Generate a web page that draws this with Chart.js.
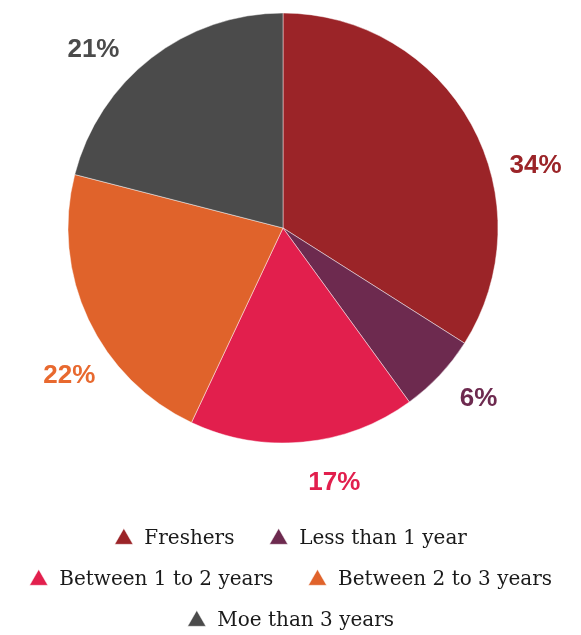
<!DOCTYPE html>
<html>
<head>
<meta charset="utf-8">
<script src="https://cdn.jsdelivr.net/npm/chart.js@4/dist/chart.umd.min.js"></script>
<style>
  html, body { margin: 0; padding: 0; background: #fff; }
  #wrap { width: 581px; height: 635px; }
</style>
</head>
<body>
<div id="wrap"><canvas id="myChart" width="581" height="635"></canvas></div>
<script>
// experience split of respondents
const categories = ['Freshers', 'Less than 1 year', 'Between 1 to 2 years', 'Between 2 to 3 years', 'Moe than 3 years'];
const shares = [34, 6, 17, 22, 21];
const sliceColors = ['#9b2428', '#6d2a4f', '#e21f4d', '#e0632b', '#4b4b4b'];
const labelColors = ['#9b2428', '#6d2a4f', '#e21f4d', '#e8692f', '#4b4b4b'];

// nudge the pie inside its area (legend keeps its own centering)
const movePie = {
  id: 'movePie',
  afterLayout(chart, args, opts) {
    const a = chart.chartArea;
    a.left += opts.dx; a.right += opts.dx;
    a.top += opts.dy; a.bottom += opts.dy;
  }
};

// draws the % labels outside the pie, nudged like the original
const outsideLabels = {
  id: 'outsideLabels',
  afterDatasetsDraw(chart, args, opts) {
    const ctx = chart.ctx;
    const meta = chart.getDatasetMeta(0);
    ctx.save();
    ctx.font = 'bold 26px "Liberation Sans", Arial, sans-serif';
    ctx.textAlign = 'center';
    ctx.textBaseline = 'middle';
    meta.data.forEach((arc, i) => {
      const p = arc.getProps(['x', 'y', 'startAngle', 'endAngle', 'outerRadius'], true);
      const a = (p.startAngle + p.endAngle) / 2 + opts.shift[i] * Math.PI / 180;
      const r = p.outerRadius + opts.gap;
      ctx.fillStyle = labelColors[i];
      ctx.fillText(shares[i] + '%', p.x + Math.cos(a) * r, p.y + Math.sin(a) * r);
    });
    ctx.restore();
  }
};

const ctx = document.getElementById('myChart').getContext('2d');
new Chart(ctx, {
  type: 'pie',
  data: {
    labels: categories,
    datasets: [{
      data: shares,
      backgroundColor: sliceColors,
      borderColor: 'rgba(255,255,255,0.45)',
      borderWidth: 1,
      radius: 215
    }]
  },
  options: {
    responsive: false,
    animation: false,
    layout: { padding: { top: 0, left: 6, right: -6, bottom: -6 } },
    plugins: {
      tooltip: { enabled: false },
      legend: {
        position: 'bottom',
        labels: {
          usePointStyle: true,
          pointStyle: 'triangle',
          boxHeight: 15,
          pointStyleWidth: 21,
          padding: 21,
          color: '#1a1a1a',
          font: { family: '"DejaVu Serif", serif', size: 20 },
          generateLabels(chart) {
            // two trailing spaces widen the gap between items
            return Chart.overrides.pie.plugins.legend.labels.generateLabels(chart)
              .map(l => Object.assign(l, { text: l.text + '\u00a0\u00a0' }));
          }
        }
      },
      movePie: { dx: -10.5, dy: -26 },
      outsideLabels: { gap: 45, shift: [15, -2, -6, -9.5, -9] }
    }
  },
  plugins: [movePie, outsideLabels]
});
</script>
</body>
</html>
